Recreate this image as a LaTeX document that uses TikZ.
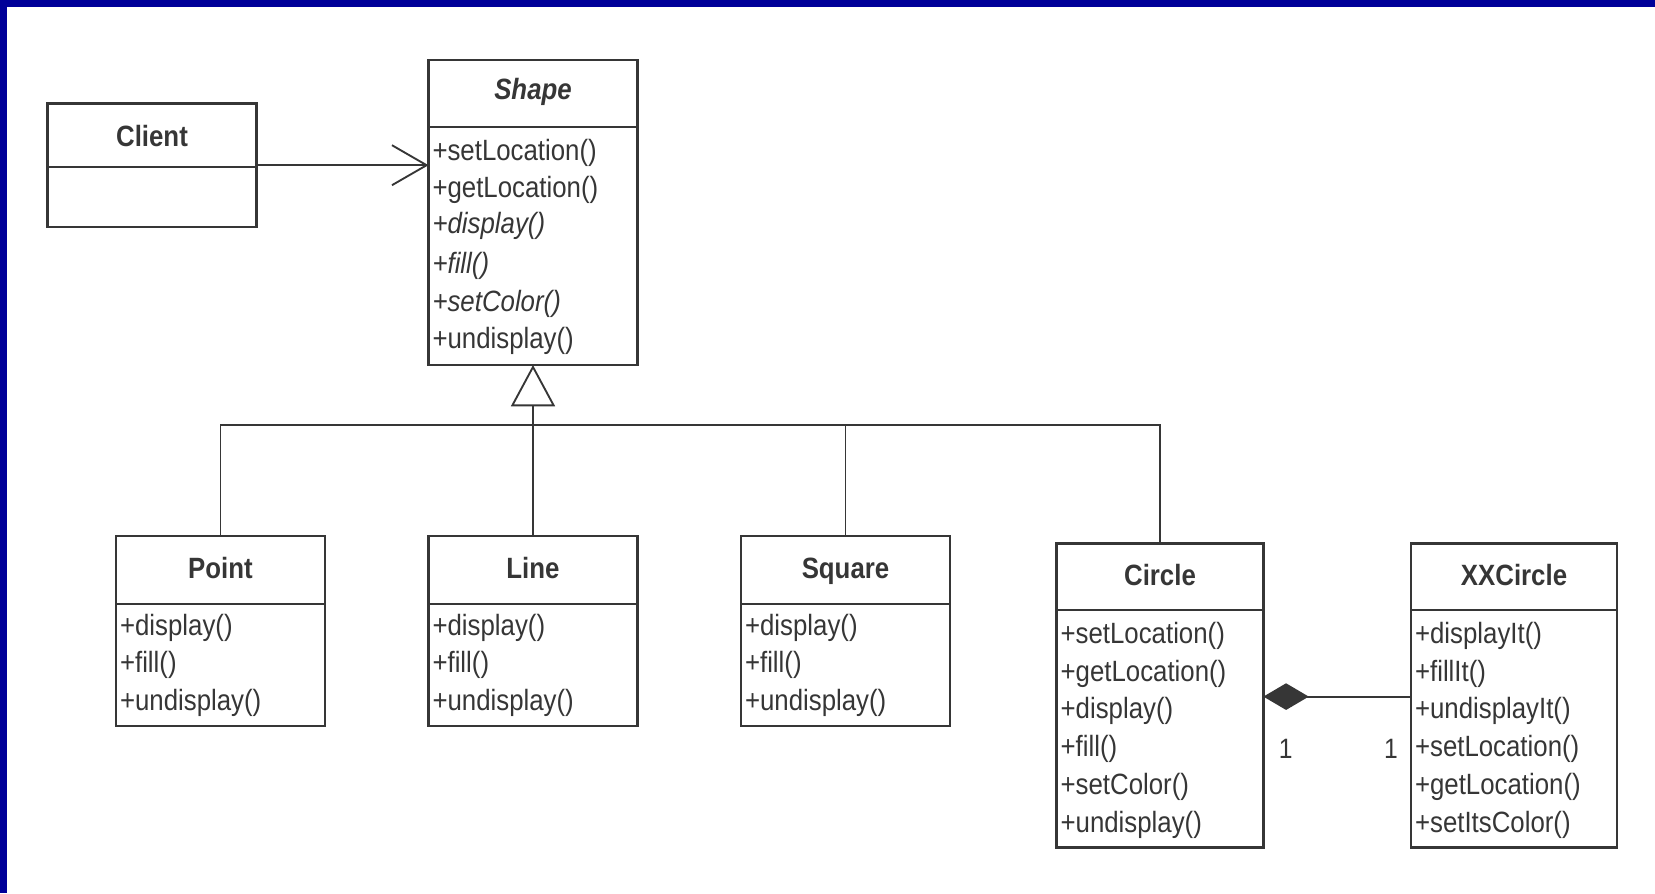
\documentclass[tikz,border=0pt]{standalone}
\usepackage{fontspec}
\setmainfont{Liberation Sans}[FakeStretch=0.88]
\usetikzlibrary{arrows.meta}
\definecolor{ink}{HTML}{363636}
\definecolor{frameblue}{HTML}{000099}
\begin{document}
\begin{tikzpicture}[x=0.75pt,y=-0.75pt,
  every node/.style={font=\fontsize{22pt}{26pt}\selectfont, text=ink, inner sep=0pt, outer sep=0pt},
  classbox/.style={draw=ink, line width=1.7pt, rectangle},
  rule/.style={draw=ink, line width=1.7pt},
  classname/.style={font=\fontsize{22pt}{26pt}\selectfont\bfseries, text height=0.72em, text depth=0pt},
  op/.style={anchor=west},
  conn/.style={draw=ink, line width=1.4pt},
  mult/.style={font=\fontsize{21pt}{25pt}\selectfont},
]
% page and frame
\fill[white] (0,0) rectangle (1655,893);
\useasboundingbox (0,0) rectangle (1655,893);
\fill[frameblue] (0,0) rectangle (1655,7);
\fill[frameblue] (0,0) rectangle (7,893);

% ---------- class boxes ----------
\node[classbox, minimum width=156.75pt, minimum height=92.7pt]  (client)   at (152,165.2)   {};
\node[classbox, minimum width=156.75pt, minimum height=228.75pt] (shape)   at (533,212.5)   {};
\node[classbox, minimum width=156.75pt, minimum height=142.5pt] (point)    at (220.5,631)   {};
\node[classbox, minimum width=156.75pt, minimum height=142.5pt] (line)     at (533,631)     {};
\node[classbox, minimum width=156.75pt, minimum height=142.5pt] (square)   at (845.5,631)   {};
\node[classbox, minimum width=155.1pt,  minimum height=228pt]   (circle)   at (1160,695.6)  {};
\node[classbox, minimum width=154.5pt,  minimum height=228pt]   (xxcircle) at (1514,695.6)  {};

% compartment rules
\draw[rule] ([yshift=-47.55pt]client.north west) -- ([yshift=-47.55pt]client.north east);
\draw[rule] ([yshift=-50pt]shape.north west) -- ([yshift=-50pt]shape.north east);
\foreach \c in {point,line,square}
  \draw[rule] ([yshift=-50.8pt]\c.north west) -- ([yshift=-50.8pt]\c.north east);
\foreach \c in {circle,xxcircle}
  \draw[rule] ([yshift=-49.8pt]\c.north west) -- ([yshift=-49.8pt]\c.north east);

% ---------- class names ----------
\node[classname] (client-name) at (152,141.5) {Client};
\node[classname, font=\fontsize{22pt}{26pt}\selectfont\bfseries\itshape] (shape-name) at (533,95) {Shape};
\node[classname] (point-name)    at (220.5,574) {Point};
\node[classname] (line-name)     at (533,574)   {Line};
\node[classname] (square-name)   at (845.5,574) {Square};
\node[classname] (circle-name)   at (1160,581)  {Circle};
\node[classname] (xxcircle-name) at (1514,581)  {XXCircle};

% ---------- operations ----------
\node[op] (shape-op1) at (432.5,153) {+setLocation()};
\node[op] (shape-op2) at (432.5,190) {+getLocation()};
\node[op] (shape-op3) at (432.5,226) {\itshape +display()};
\node[op] (shape-op4) at (432.5,266) {\itshape +fill()};
\node[op] (shape-op5) at (432.5,304) {\itshape +setColor()};
\node[op] (shape-op6) at (432.5,341) {+undisplay()};

\node[op] (point-op1) at (120,628) {+display()};
\node[op] (point-op2) at (120,665) {+fill()};
\node[op] (point-op3) at (120,703) {+undisplay()};

\node[op] (line-op1) at (432.5,628) {+display()};
\node[op] (line-op2) at (432.5,665) {+fill()};
\node[op] (line-op3) at (432.5,703) {+undisplay()};

\node[op] (square-op1) at (745,628) {+display()};
\node[op] (square-op2) at (745,665) {+fill()};
\node[op] (square-op3) at (745,703) {+undisplay()};

\node[op] (circle-op1) at (1060.6,636) {+setLocation()};
\node[op] (circle-op2) at (1060.6,674) {+getLocation()};
\node[op] (circle-op3) at (1060.6,711) {+display()};
\node[op] (circle-op4) at (1060.6,749) {+fill()};
\node[op] (circle-op5) at (1060.6,787) {+setColor()};
\node[op] (circle-op6) at (1060.6,825) {+undisplay()};

\node[op] (xx-op1) at (1415,636) {+displayIt()};
\node[op] (xx-op2) at (1415,674) {+fillIt()};
\node[op] (xx-op3) at (1415,711) {+undisplayIt()};
\node[op] (xx-op4) at (1415,749) {+setLocation()};
\node[op] (xx-op5) at (1415,787) {+getLocation()};
\node[op] (xx-op6) at (1415,825) {+setItsColor()};

% ---------- relations ----------
% association Client -> Shape
\draw[conn, -{Straight Barb[length=26pt,width=30pt]}] (client.east) -- (client.east -| shape.west);

% generalisation tree
\coordinate (busy) at (0,425.4);
\draw[conn] (point.north) -- (point.north |- busy) -- (circle.north |- busy) -- (circle.north);
\draw[conn] (square.north) -- (square.north |- busy);
\draw[conn, -{Triangle[length=31pt,width=33pt,fill=white]}] (line.north) -- (shape.south);

% composition Circle <>-- XXCircle
\coordinate (diay) at (0,696.6);
\draw[conn, {Diamond[length=34pt,width=20pt]}-] (circle.east |- diay) -- (xxcircle.west |- diay);
\node[mult] (m-circle) at (1285.6,749) {1};
\node[mult] (m-xx)     at (1391,749)   {1};
\end{tikzpicture}
\end{document}
